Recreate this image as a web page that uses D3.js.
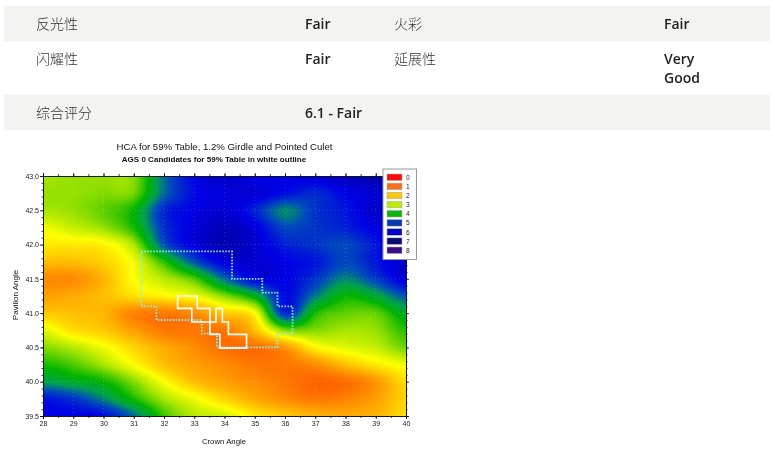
<!DOCTYPE html>
<html><head><meta charset="utf-8">
<script src="https://cdn.jsdelivr.net/npm/d3@7/dist/d3.min.js"></script>
<style>
html,body{margin:0;padding:0;background:#fff;width:772px;height:465px;overflow:hidden}
#heat{position:absolute;left:0;top:0}
#over{position:absolute;left:0;top:0}
</style></head><body>
<canvas id="heat" width="772" height="465"></canvas>
<svg id="over" width="772" height="465"></svg>
<script>
const tableRows = [
  ["反光性","Fair","火彩","Fair"],
  ["闪耀性","Fair","延展性","Very|Good"],
  ["综合评分","6.1 - Fair","",""]
];
const crownAngles = [28,29,30,31,32,33,34,35,36,37,38,39,40];
const pavilionAngles = [43,42.75,42.5,42.25,42,41.75,41.5,41.25,41,40.75,40.5,40.25,40,39.75,39.5];
const p4300=[3.1,3.2,3.2,3.3,5.0,6.0,6.3,6.0,6.0,6.2,6.4,6.6,6.8];
const p4275=[3.2,3.2,3.3,3.4,5.0,5.9,6.1,6.2,5.9,5.6,6.0,6.2,6.6];
const p4250=[3.1,3.2,3.5,4.0,5.6,6.0,6.2,5.7,4.8,5.5,5.8,6.3,6.6];
const p4225=[2.6,2.9,3.2,3.9,5.5,6.1,6.4,6.1,5.3,5.5,5.7,6.1,6.5];
const p4200=[2.3,2.3,2.4,3.1,5.2,6.1,6.5,6.2,5.7,5.5,5.3,5.8,6.5];
const p4175=[1.9,1.9,2.1,2.6,3.8,5.2,6.1,6.2,6.0,5.8,5.3,5.8,6.3];
const p4150=[1.4,1.4,1.8,2.5,3.0,3.6,5.0,6.0,6.0,5.5,4.8,5.4,6.2];
const p4125=[1.6,1.7,1.9,2.2,2.4,2.6,3.3,4.2,5.9,4.9,4.0,4.4,5.2];
const p4100=[2.0,1.9,1.8,1.3,1.2,1.4,2.0,2.5,5.6,3.9,3.5,3.5,4.3];
const p4075=[2.7,2.2,2.0,1.6,1.2,1.2,1.2,1.9,3.3,3.3,3.1,3.2,3.8];
const p4050=[3.3,3.0,2.6,2.1,1.7,1.4,1.1,1.1,1.5,2.4,2.7,2.9,3.4];
const p4025=[3.9,3.6,3.1,2.5,1.9,1.6,1.4,1.2,1.2,1.4,1.9,2.3,2.6];
const p4000=[4.6,4.3,4.0,3.3,2.5,1.9,1.6,1.4,1.2,1.0,1.1,1.5,2.2];
const p3975=[5.8,5.5,4.8,3.9,3.1,2.6,2.1,1.7,1.4,1.2,1.3,1.6,2.1];
const p3950=[6.0,6.0,5.9,5.0,3.7,3.0,2.8,2.3,2.0,1.8,1.7,1.8,2.2];
const hcaGrid=[p4300,p4275,p4250,p4225,p4200,p4175,p4150,p4125,p4100,p4075,p4050,p4025,p4000,p3975,p3950];
const legendLevels=["0","1","2","3","4","5","6","7","8"];
const legendColors=["#fb0c0c","#f5701a","#fdc60a","#bde80a","#0cb40c","#0a3aaa","#0404c8","#0c0c70","#3c0c84"];
const colorStops=[0,1,1.8,2.5,3.1,4,4.6,5.2,6,7,8];
const colorValues=["#ff0000","#ff6400","#ffb400","#ffff00","#a8e600","#00b400","#00a050","#0050b8","#0000e6","#000080","#400080"];
const xTicks=[28,29,30,31,32,33,34,35,36,37,38,39,40];
const yTicks=[39.5,40,40.5,41,41.5,42,42.5,43];
const ags0Crown=[31.25,34.25,34.25,35.25,35.25,35.75,35.75,36.25,36.25,35.75,35.75,33.75,33.75,33.25,33.25,31.75,31.75,31.25];
const ags0Pav=[41.9,41.9,41.5,41.5,41.3,41.3,41.1,41.1,40.7,40.7,40.5,40.5,40.7,40.7,40.9,40.9,41.1,41.1];
const whiteCrown=[32.45,33.1,33.1,33.52,33.52,33.85,33.85,34.73,34.73,34.13,34.13,33.93,33.93,33.72,33.72,32.92,32.92,32.45];
const whitePav=[41.25,41.25,41.07,41.07,40.69,40.69,40.49,40.49,40.69,40.69,40.87,40.87,41.07,41.07,40.87,40.87,41.07,41.07];

const x=d3.scaleLinear().domain([28,40]).range([43,406]);
const y=d3.scaleLinear().domain([39.5,43]).range([416,176]);
const color=d3.scaleLinear().domain(colorStops).range(colorValues).clamp(true);
const colIdx=d3.scaleLinear().domain(d3.extent(crownAngles)).range([0,crownAngles.length-1]);
const rowIdx=d3.scaleLinear().domain([43,39.5]).range([0,pavilionAngles.length-1]);

function cr(a,b,c,d,t){return 0.5*(2*b+(c-a)*t+(2*a-5*b+4*c-d)*t*t+(3*b-a-3*c+d)*t*t*t);}
function sample(cx,py){
  const u=colIdx(cx),v=rowIdx(py),nr=hcaGrid.length,nc=crownAngles.length;
  const i=Math.min(Math.floor(u),nc-2),j=Math.min(Math.floor(v),nr-2),tu=u-i,tv=v-j;
  const g=(r,c)=>hcaGrid[Math.max(0,Math.min(nr-1,r))][Math.max(0,Math.min(nc-1,c))];
  const rows=[-1,0,1,2].map(dr=>cr(g(j+dr,i-1),g(j+dr,i),g(j+dr,i+1),g(j+dr,i+2),tu));
  return cr(rows[0],rows[1],rows[2],rows[3],tv);
}
const ctx=document.getElementById("heat").getContext("2d");
ctx.fillStyle="#fff";ctx.fillRect(0,0,772,465);
const [x0,x1]=x.range(),[y1,y0]=y.range();
const img=ctx.createImageData(x1-x0,y1-y0);
for(let py=y0;py<y1;py++)for(let px=x0;px<x1;px++){
  const c=d3.rgb(color(sample(x.invert(px+.5),y.invert(py+.5))));
  const k=((py-y0)*(x1-x0)+(px-x0))*4;
  img.data[k]=c.r;img.data[k+1]=c.g;img.data[k+2]=c.b;img.data[k+3]=255;
}
ctx.putImageData(img,x0,y0);

const svg=d3.select("#over");
const cjk='"Noto Sans CJK SC",sans-serif', latin='"Open Sans",sans-serif', arial='"Liberation Sans",Arial,sans-serif';

// table
const rowTop=[6,41,95],rowH=[35,54,35],bg=["#f3f3f2","none","#f3f3f2"],colX=[36,305,394,664];
tableRows.forEach((r,i)=>{
  if(bg[i]!=="none")svg.append("rect").attr("x",4).attr("y",rowTop[i]).attr("width",766).attr("height",rowH[i]).attr("fill",bg[i]);
  r.forEach((t,j)=>{
    const bold=j%2===1;
    t.split("|").forEach((line,k)=>{
      svg.append("text").attr("x",colX[j]).attr("y",rowTop[i]+23+k*19)
        .attr("font-family",bold?latin:cjk).attr("font-weight",bold?600:300)
        .attr("font-size",14).attr("fill",bold?"#222":"#333").text(line);
    });
  });
});

// faint grid
const grid=svg.append("g").attr("stroke","#fff").attr("stroke-opacity",.16).attr("stroke-dasharray","1 3");
xTicks.slice(1,-1).forEach(v=>grid.append("line").attr("x1",x(v)).attr("x2",x(v)).attr("y1",y0).attr("y2",y1));
yTicks.slice(1,-1).forEach(v=>grid.append("line").attr("y1",y(v)).attr("y2",y(v)).attr("x1",x0).attr("x2",x1));

// axes
const fmtY=d3.format(".1f");
const minorX=d3.range(28,40.01,.5), minorY=d3.range(39.5,43.01,.1);
function styleAxis(g){g.selectAll("text").attr("font-family",arial).attr("font-size",7).attr("fill","#222");g.selectAll("path,line").attr("stroke","#111").attr("stroke-width",.8);}
svg.append("g").attr("transform",`translate(0,${y1})`).call(d3.axisBottom(x).tickValues(minorX).tickSize(2).tickFormat("")).call(styleAxis);
svg.append("g").attr("transform",`translate(0,${y0})`).call(d3.axisTop(x).tickValues(minorX).tickSize(2).tickFormat("")).call(styleAxis);
svg.append("g").attr("transform",`translate(${x0},0)`).call(d3.axisLeft(y).tickValues(minorY).tickSize(1.5).tickFormat("")).call(styleAxis);
svg.append("g").attr("transform",`translate(${x1},0)`).call(d3.axisRight(y).tickValues(minorY).tickSize(1.5).tickFormat("")).call(styleAxis);
svg.append("g").attr("transform",`translate(0,${y1})`).call(d3.axisBottom(x).tickValues(xTicks).tickSize(3).tickPadding(2).tickFormat(d3.format("d"))).call(styleAxis);
svg.append("g").attr("transform",`translate(${x0},0)`).call(d3.axisLeft(y).tickValues(yTicks).tickSize(3).tickPadding(1).tickFormat(fmtY)).call(styleAxis);
svg.append("g").attr("transform",`translate(0,${y0})`).call(d3.axisTop(x).tickValues(xTicks).tickSize(3).tickFormat("")).call(styleAxis);
svg.append("g").attr("transform",`translate(${x1},0)`).call(d3.axisRight(y).tickValues(yTicks).tickSize(3).tickFormat("")).call(styleAxis);

// outlines
const line=d3.line().x(d=>x(d[0])).y(d=>y(d[1])).curve(d3.curveLinearClosed);
svg.append("path").attr("d",line(d3.zip(ags0Crown,ags0Pav))).attr("fill","none").attr("stroke","#8ff0ea").attr("stroke-width",1.8).attr("stroke-dasharray","1.5 1.5");
svg.append("path").attr("d",line(d3.zip(whiteCrown,whitePav))).attr("fill","none").attr("stroke","#fff").attr("stroke-width",1.6);

// titles
const T=(t,xx,yy,fs,w)=>svg.append("text").attr("x",xx).attr("y",yy).attr("text-anchor","middle").attr("font-family",arial).attr("font-size",fs).attr("font-weight",w||400).attr("fill","#111").text(t);
T("HCA for 59% Table, 1.2% Girdle and Pointed Culet",224.5,150,9.65);
T("AGS 0 Candidates for 59% Table in white outline",214,162,8.05,700);
T("Crown Angle",224,444,7.8);
svg.append("text").attr("transform","translate(17.5,295) rotate(-90)").attr("text-anchor","middle").attr("font-family",arial).attr("font-size",8).attr("fill","#111").text("Pavilion Angle");

// legend
const lg=svg.append("g");
lg.append("rect").attr("x",383).attr("y",169).attr("width",33.5).attr("height",90.5).attr("fill","#fff").attr("stroke","#999").attr("stroke-width",1);
const ly=d3.scalePoint().domain(legendLevels).range([174,247]);
legendLevels.forEach((l,i)=>{
  lg.append("rect").attr("x",387).attr("y",ly(l)).attr("width",15).attr("height",6.5).attr("fill",legendColors[i]).attr("stroke","#aaa").attr("stroke-width",.5);
  lg.append("text").attr("x",406).attr("y",ly(l)+5.8).attr("font-family",arial).attr("font-size",6.5).attr("fill","#222").text(l);
});
</script></body></html>
